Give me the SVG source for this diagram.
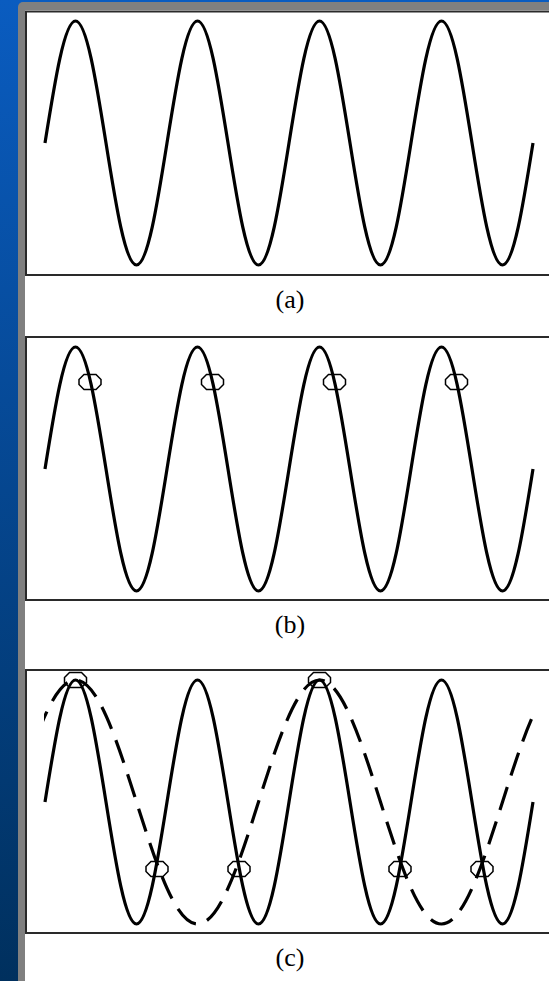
<svg xmlns="http://www.w3.org/2000/svg" width="549" height="981" viewBox="0 0 549 981">
<style>
.wave{fill:none;stroke:#000;stroke-width:3.2;stroke-linejoin:round}
.dash{fill:none;stroke:#000;stroke-width:3.2;stroke-dasharray:24 12}
.box{fill:none;stroke:#2a2a2a;stroke-width:2}
.mk{fill:none;stroke:#000;stroke-width:1.5}
.lbl{font-family:"Liberation Serif","Times New Roman",serif;font-size:26px;fill:#000;text-anchor:middle}
</style>
<defs>
<linearGradient id="bg" x1="0" y1="0" x2="0" y2="1">
<stop offset="0" stop-color="#0a5cc0"/>
<stop offset="1" stop-color="#00305e"/>
</linearGradient>
<path id="sine" d="M45,143 c 9.95,-62.5 19.46,-122 30.5,-122 s 20.55,59.5 30.5,122 s 19.46,122 30.5,122 s 20.55,-59.5 30.5,-122 s 19.46,-122 30.5,-122 s 20.55,59.5 30.5,122 s 19.46,122 30.5,122 s 20.55,-59.5 30.5,-122 s 19.46,-122 30.5,-122 s 20.55,59.5 30.5,122 s 19.46,122 30.5,122 s 20.55,-59.5 30.5,-122 s 19.46,-122 30.5,-122 s 20.55,59.5 30.5,122 s 19.46,122 30.5,122 s 20.55,-59.5 30.5,-122"/>
<polygon id="oct" points="-6,-7.5 6,-7.5 11,-2.5 11,2.5 6,7.5 -6,7.5 -11,2.5 -11,-2.5"/>
<clipPath id="clipc"><rect x="44" y="670" width="490" height="263"/></clipPath>
</defs>
<rect x="0" y="0" width="549" height="981" fill="url(#bg)"/>
<path d="M18,981 V7 a5,5 0 0 1 5,-5 H549 V981 Z" fill="#808080"/>
<rect x="25" y="10" width="524" height="971" fill="#fff"/>

<g id="panel-a">
<rect class="box" x="26" y="11.5" width="540" height="263.5"/>
<use href="#sine" class="wave"/>
<text class="lbl" x="290" y="308">(a)</text>
</g>

<g id="panel-b">
<rect class="box" x="26" y="337" width="540" height="263"/>
<use href="#sine" class="wave" transform="translate(0,326)"/>
<g class="mk">
<use href="#oct" x="90" y="382"/>
<use href="#oct" x="212.5" y="382"/>
<use href="#oct" x="334.5" y="382"/>
<use href="#oct" x="456.5" y="382"/>
</g>
<text class="lbl" x="290" y="633">(b)</text>
</g>

<g id="panel-c">
<rect class="box" x="26" y="670" width="540" height="263"/>
<use href="#sine" class="wave" transform="translate(0,659)"/>
<path class="dash" clip-path="url(#clipc)" d="M14.5,802 c 19.89,-62.5 38.92,-122 61,-122 s 41.11,59.5 61,122 s 38.92,122 61,122 s 41.11,-59.5 61,-122 s 38.92,-122 61,-122 s 41.11,59.5 61,122 s 38.92,122 61,122 s 41.11,-59.5 61,-122 s 38.92,-122 61,-122"/>
<g class="mk">
<use href="#oct" x="75.5" y="680"/>
<use href="#oct" x="319.5" y="680"/>
<use href="#oct" x="157" y="869"/>
<use href="#oct" x="239" y="869"/>
<use href="#oct" x="400" y="869"/>
<use href="#oct" x="482" y="869"/>
</g>
<text class="lbl" x="290" y="966">(c)</text>
</g>
</svg>
